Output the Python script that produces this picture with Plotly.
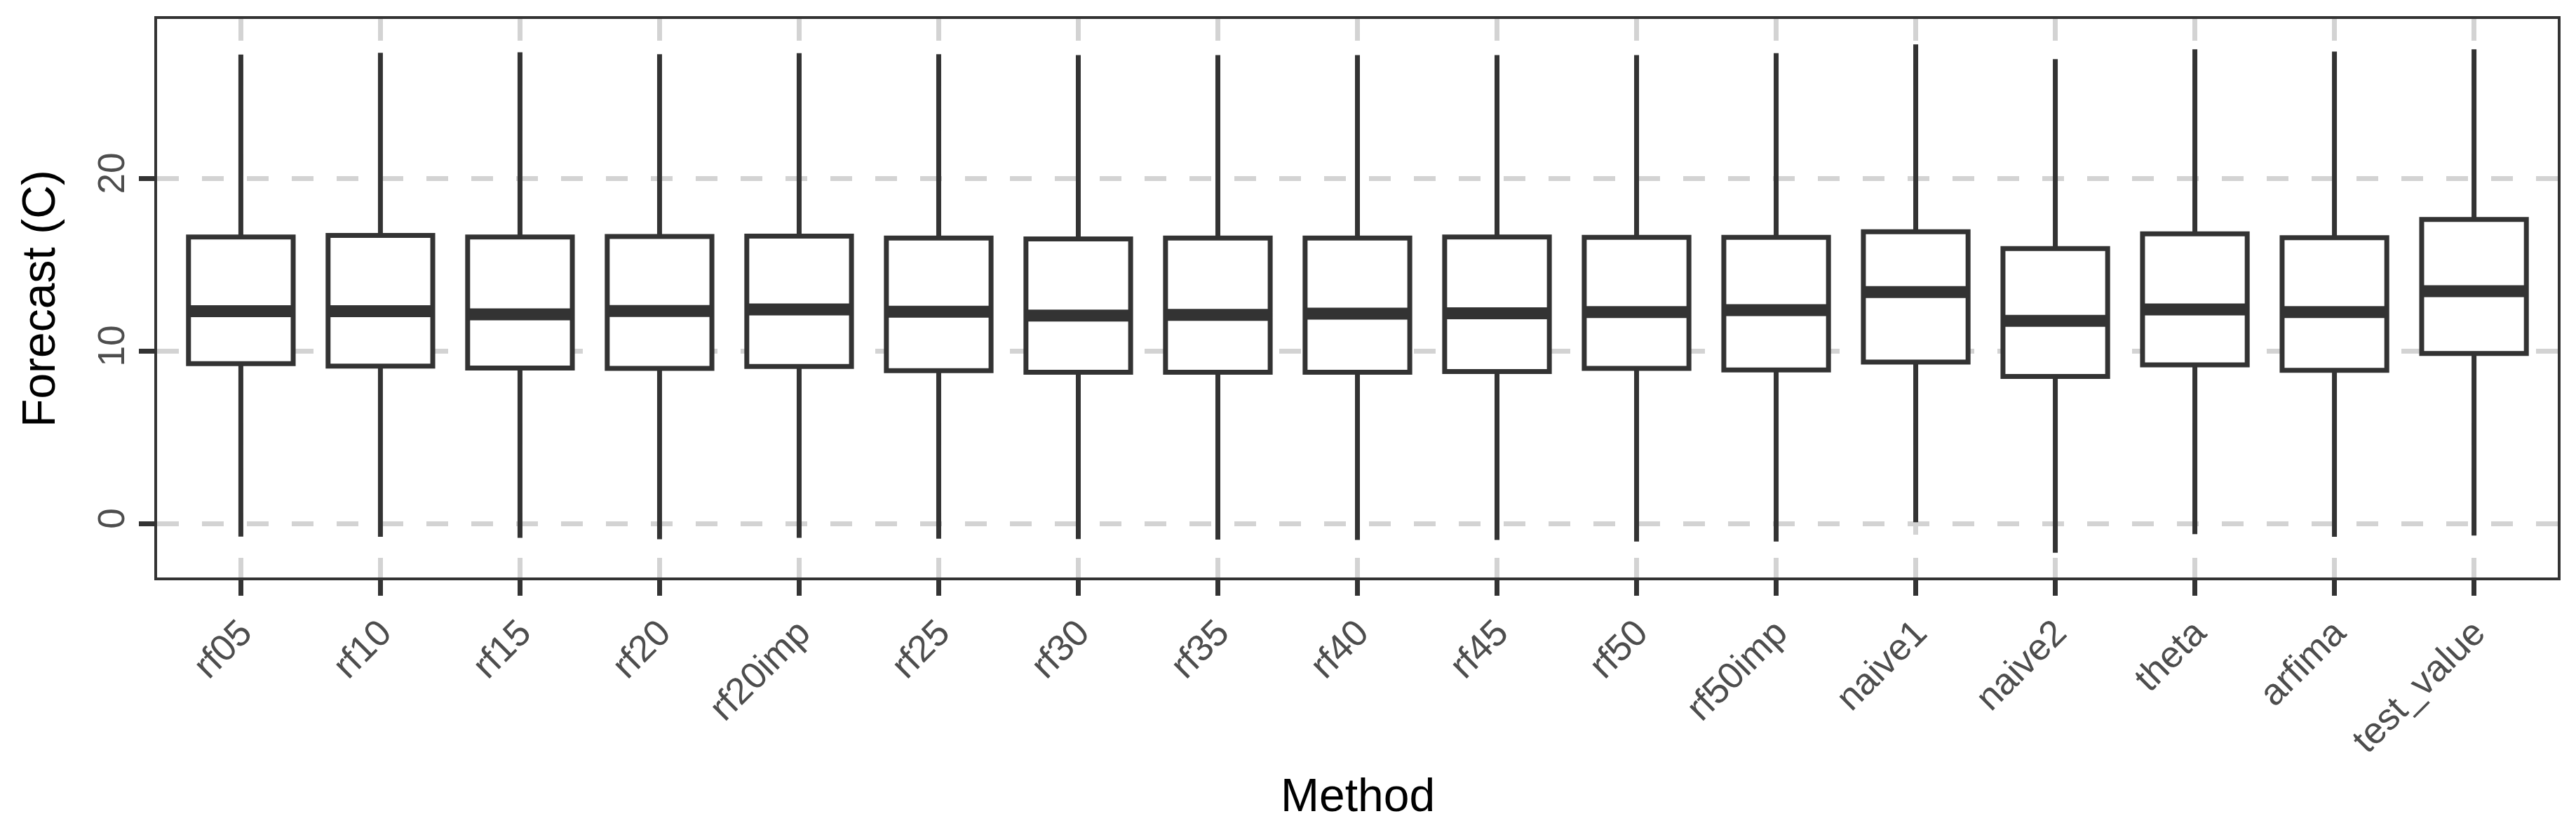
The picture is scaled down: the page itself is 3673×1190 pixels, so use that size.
import plotly.graph_objects as go

# Boxplot summary stats (Forecast in C)
methods = ['rf05', 'rf10', 'rf15', 'rf20', 'rf20imp', 'rf25', 'rf30', 'rf35', 'rf40',
           'rf45', 'rf50', 'rf50imp', 'naive1', 'naive2', 'theta', 'arfima', 'test_value']
q1 = [9.30, 9.15, 9.04, 9.02, 9.13, 8.89, 8.80, 8.80, 8.80, 8.84, 9.02, 8.93, 9.39, 8.55, 9.22, 8.91, 9.88]
medians = [12.33, 12.33, 12.15, 12.34, 12.43, 12.30, 12.08, 12.12, 12.19, 12.21, 12.28, 12.39, 13.44, 11.77, 12.43, 12.28, 13.49]
q3 = [16.63, 16.72, 16.63, 16.66, 16.68, 16.57, 16.52, 16.57, 16.57, 16.63, 16.61, 16.61, 16.94, 15.96, 16.81, 16.59, 17.65]
upper = [27.20, 27.30, 27.33, 27.22, 27.28, 27.22, 27.17, 27.17, 27.17, 27.17, 27.17, 27.28, 27.79, 26.93, 27.50, 27.37, 27.50]
lower = [-0.72, -0.73, -0.79, -0.88, -0.79, -0.84, -0.86, -0.90, -0.92, -0.92, -1.01, -1.01, 0.11, -1.66, -0.57, -0.73, -0.66]
y_ticks = [0, 10, 20]

dark = '#333333'
grid = '#D3D3D3'
font = 'Liberation Sans, Arial, sans-serif'
box_w = 0.75

pos = list(range(len(methods)))

fig = go.Figure()

fig.add_trace(go.Box(
    x=pos, q1=q1, median=medians, q3=q3,
    lowerfence=lower, upperfence=upper,
    width=box_w, whiskerwidth=0,
    fillcolor='white',
    line=dict(color=dark, width=7),
    boxpoints=False,
    showlegend=False,
    hoverinfo='skip',
))

# ggplot-style thick median bars
mx, my = [], []
for p, m in zip(pos, medians):
    mx += [p - box_w / 2, p + box_w / 2, None]
    my += [m, m, None]
fig.add_trace(go.Scatter(
    x=mx, y=my, mode='lines',
    line=dict(color=dark, width=17),
    showlegend=False, hoverinfo='skip',
))

axis_common = dict(
    showline=True, mirror=True, linecolor=dark, linewidth=4,
    ticks='outside', ticklen=22, tickwidth=7, tickcolor=dark,
    showgrid=True, gridcolor=grid, gridwidth=7, griddash='31px,33px',
    zeroline=False,
    tickfont=dict(family=font, size=53, color='#4D4D4D'),
)

fig.update_xaxes(
    range=[-0.6, len(methods) - 0.4],
    tickmode='array', tickvals=pos, ticktext=methods,
    tickangle=-45,
    **axis_common,
)
fig.update_yaxes(
    range=[-3.09, 29.26],
    tickmode='array', tickvals=y_ticks, ticktext=[str(t) for t in y_ticks],
    tickangle=-90,
    **axis_common,
)

# page body adds an 8px margin, so the figure is a bit smaller than the window
fig.update_layout(
    width=3665, height=1182, autosize=False,
    margin=dict(l=216, r=26, t=19, b=367),
    plot_bgcolor='white', paper_bgcolor='white',
    annotations=[
        dict(text='Method', xref='paper', yref='paper', x=0.5, y=-0.39,
             xanchor='center', yanchor='middle', showarrow=False,
             font=dict(family=font, size=66, color='black')),
        dict(text='Forecast (C)', xref='paper', yref='paper', x=-0.0494, y=0.5,
             xanchor='center', yanchor='middle', textangle=-90, showarrow=False,
             font=dict(family=font, size=66, color='black')),
    ],
)

fig.write_html('out.html')
